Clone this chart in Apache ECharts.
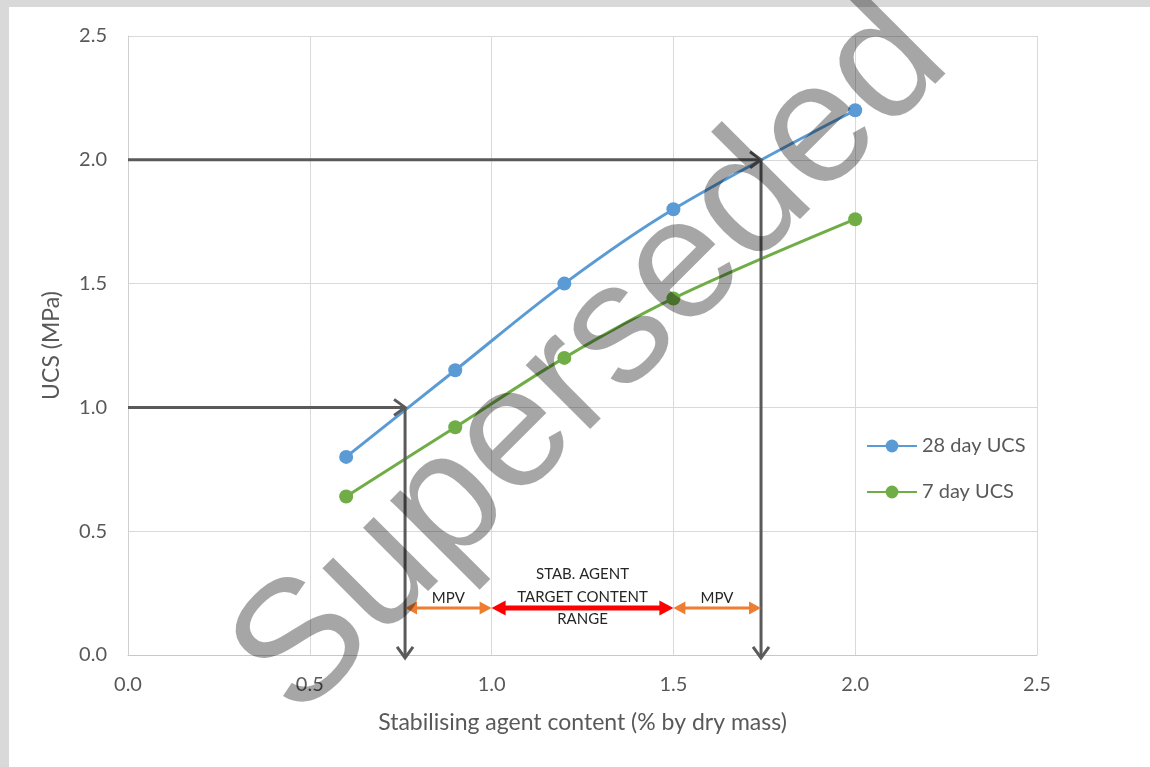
<!DOCTYPE html>
<html>
<head>
<meta charset="utf-8">
<script src="https://cdn.jsdelivr.net/npm/echarts@6/dist/echarts.min.js"></script>
<style>
html,body{margin:0;padding:0;background:#fff;}
#chart{width:1150px;height:767px;}
</style>
</head>
<body>
<div id="chart"></div>
<script>
// ---- data ----
const xContent = [0.6, 0.9, 1.2, 1.5, 2.0];
const ucs28 = [0.80, 1.15, 1.50, 1.80, 2.20];
const ucs7 = [0.64, 0.92, 1.20, 1.44, 1.76];
const seriesNames = ['28 day UCS', '7 day UCS'];
const xTicks = [0, 0.5, 1.0, 1.5, 2.0, 2.5];
const yTicks = [0, 0.5, 1.0, 1.5, 2.0, 2.5];
// guide arrows: [x1, y1, x2, y2]
const guideArrows = [
  [0, 1.0, 0.762, 1.0],
  [0.762, 1.0, 0.762, -0.012],
  [0, 2.0, 1.741, 2.0],
  [1.741, 2.0, 1.741, -0.012]
];
// range arrows: [xStart, xEnd, y, kind]
const rangeArrows = [
  [0.762, 1.0, 0.19, 0],
  [1.0, 1.5, 0.19, 1],
  [1.5, 1.741, 0.19, 0]
];
// annotation labels: [x, y, text]
const rangeLabels = [
  [0.881, 0.228, 'MPV'],
  [1.25, 0.234, 'STAB. AGENT\nTARGET CONTENT\nRANGE'],
  [1.62, 0.228, 'MPV']
];
const watermarkText = 'Superseded';

// ---- chart ----
const chart = echarts.init(document.getElementById('chart'), null, {renderer: 'canvas'});
const fontFam = 'Lato, "Open Sans", sans-serif';
const labelColor = '#595959';

function pairs(xs, ys) { return xs.map((x, i) => [x, ys[i]]); }

const option = {
  backgroundColor: '#ffffff',
  animation: false,
  grid: {left: 128, top: 36, width: 909, height: 619, containLabel: false},
  xAxis: {
    type: 'value', min: 0, max: 2.5, interval: 0.5,
    name: 'Stabilising agent content (% by dry mass)',
    nameLocation: 'middle', nameGap: 56,
    nameTextStyle: {fontFamily: fontFam, fontSize: 23, color: labelColor},
    axisLine: {show: true, lineStyle: {color: '#c8c8c8', width: 1}},
    axisTick: {show: false},
    axisLabel: {fontFamily: fontFam, fontSize: 20, color: labelColor, margin: 20,
      formatter: v => v.toFixed(1)},
    splitLine: {show: true, lineStyle: {color: '#d9d9d9', width: 1}}
  },
  yAxis: {
    type: 'value', min: 0, max: 2.5, interval: 0.5,
    name: 'UCS (MPa)', nameLocation: 'middle', nameGap: 65,
    nameTextStyle: {fontFamily: fontFam, fontSize: 23, color: labelColor},
    axisLine: {show: true, lineStyle: {color: '#d0d0d0', width: 1}},
    axisTick: {show: false},
    axisLabel: {fontFamily: fontFam, fontSize: 20, color: labelColor, margin: 21,
      formatter: v => v.toFixed(1)},
    splitLine: {show: true, lineStyle: {color: '#d9d9d9', width: 1}}
  },
  legend: {
    orient: 'vertical', left: 861, top: 431,
    itemWidth: 50, itemHeight: 16, itemGap: 26,
    data: seriesNames,
    textStyle: {fontFamily: fontFam, fontSize: 20, color: labelColor, padding: [0,0,0,0]}
  },
  graphic: [
    {type: 'rect', shape: {x: 0, y: 0, width: 1150, height: 7}, style: {fill: '#d9d9d9'}, z: 0, silent: true},
    {type: 'rect', shape: {x: 0, y: 0, width: 9, height: 767}, style: {fill: '#d9d9d9'}, z: 0, silent: true},
    {type: 'text', x: 592, y: 360, rotation: 45 * Math.PI / 180, z: 100, silent: true,
      style: {text: watermarkText, fontFamily: '"Liberation Sans", Arial, sans-serif', fontSize: 172,
        fill: 'rgba(0,0,0,0.35)', textAlign: 'center', textVerticalAlign: 'middle'}}
  ],
  series: [
    {
      name: seriesNames[0], type: 'line', smooth: 0.35, data: pairs(xContent, ucs28),
      symbol: 'circle', symbolSize: 14,
      lineStyle: {color: '#5b9bd5', width: 3}, itemStyle: {color: '#5b9bd5'}, z: 3
    },
    {
      name: seriesNames[1], type: 'line', smooth: 0.35, data: pairs(xContent, ucs7),
      symbol: 'circle', symbolSize: 14,
      lineStyle: {color: '#70ad47', width: 3}, itemStyle: {color: '#70ad47'}, z: 3
    },
    {
      name: 'guides', type: 'custom', z: 4, silent: true,
      data: guideArrows,
      encode: {x: [0, 2], y: [1, 3]},
      clip: false,
      renderItem: function (params, api) {
        const p1 = api.coord([api.value(0), api.value(1)]);
        const p2 = api.coord([api.value(2), api.value(3)]);
        const dx = p2[0] - p1[0], dy = p2[1] - p1[1];
        const len = Math.sqrt(dx * dx + dy * dy);
        const ux = dx / len, uy = dy / len;
        const h = 11, w = 8;
        const b = [p2[0] - ux * h, p2[1] - uy * h];
        const a1 = [b[0] - uy * w, b[1] + ux * w];
        const a2 = [b[0] + uy * w, b[1] - ux * w];
        const st = {stroke: '#5a5a5a', lineWidth: 3, fill: null};
        return {type: 'group', children: [
          {type: 'line', shape: {x1: p1[0], y1: p1[1], x2: p2[0], y2: p2[1]}, style: st},
          {type: 'polyline', shape: {points: [a1, p2, a2]}, style: st}
        ]};
      }
    },
    {
      name: 'ranges', type: 'custom', z: 4, silent: true,
      data: rangeArrows,
      encode: {x: [0, 1], y: 2},
      clip: false,
      renderItem: function (params, api) {
        const red = api.value(3) === 1;
        const p1 = api.coord([api.value(0), api.value(2)]);
        const p2 = api.coord([api.value(1), api.value(2)]);
        const col = red ? '#ff0000' : '#ed7d31';
        const lw = red ? 5 : 3;
        const h = red ? 14 : 12, w = red ? 7.5 : 6.5;
        const y = p1[1];
        return {type: 'group', children: [
          {type: 'line', shape: {x1: p1[0] + h - 2, y1: y, x2: p2[0] - h + 2, y2: y}, style: {stroke: col, lineWidth: lw}},
          {type: 'polygon', shape: {points: [[p1[0], y], [p1[0] + h, y - w], [p1[0] + h, y + w]]}, style: {fill: col}},
          {type: 'polygon', shape: {points: [[p2[0], y], [p2[0] - h, y - w], [p2[0] - h, y + w]]}, style: {fill: col}}
        ]};
      }
    },
    {
      name: 'rangeLabels', type: 'custom', z: 5, silent: true,
      data: rangeLabels,
      encode: {x: 0, y: 1},
      clip: false,
      renderItem: function (params, api) {
        const p = api.coord([api.value(0), api.value(1)]);
        return {type: 'text', x: p[0], y: p[1], style: {
          text: rangeLabels[params.dataIndex][2], fontFamily: fontFam, fontSize: 15,
          lineHeight: 22.5, fill: '#262626', textAlign: 'center', textVerticalAlign: 'middle'}};
      }
    }
  ]
};
chart.setOption(option);
</script>
</body>
</html>
